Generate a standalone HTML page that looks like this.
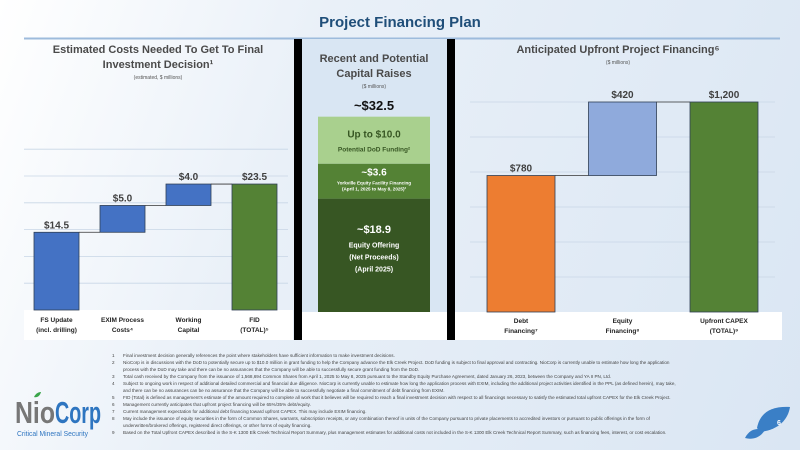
<!DOCTYPE html>
<html><head><meta charset="utf-8"><style>
*{margin:0;padding:0;box-sizing:border-box}
body{width:800px;height:450px;overflow:hidden;font-family:"Liberation Sans",sans-serif;background:linear-gradient(110deg,#ffffff 0%,#e9f0f8 35%,#dae6f3 100%);position:relative}
svg{position:absolute;left:0;top:0}
.fn{position:absolute;left:112px;top:352px;font-size:4.6px;line-height:7px;color:#444;width:670px}
.fn div{position:relative;padding-left:11px;white-space:nowrap;overflow:hidden}
.fn span{position:absolute;left:0}
</style></head><body>
<svg width="800" height="450">
<text x="400" y="27" text-anchor="middle" font-size="15" font-weight="bold" fill="#1f4e79">Project Financing Plan</text>
<line x1="24" y1="38.5" x2="780" y2="38.5" stroke="#9dbbdc" stroke-width="2"/>
<rect x="24" y="310" width="269" height="30" fill="#fff"/>
<rect x="455" y="312" width="327" height="28" fill="#fff"/>
<rect x="302" y="39" width="145" height="273" fill="#d9e6f3"/>
<rect x="302" y="312" width="145" height="28" fill="#fff"/>
<rect x="294" y="39" width="8" height="301" fill="#000"/>
<rect x="447" y="39" width="8" height="301" fill="#000"/>
<g id="left"></g>
<g id="mid"></g>
<g id="right"></g>
<path d="M757 428 C760 412 772 406 790 407 C788 420 778 430 760 432Z" fill="#3a7fc6"/>
<path d="M745 438 C750 428 758 428 765 430 C760 438 752 440 745 438Z" fill="#3a7fc6"/>
<text x="777" y="425" font-size="7" font-weight="bold" fill="#fff">6</text>
<text x="15" y="423" font-size="31" font-weight="bold" fill="#777" textLength="40" lengthAdjust="spacingAndGlyphs">Nio</text>
<text x="55" y="423" font-size="31" font-weight="bold" fill="#2e75c0" textLength="46" lengthAdjust="spacingAndGlyphs">Corp</text>
<path d="M34 397 C36 393 39 392 41 392 C40 396 37 398 34 397Z" fill="#3aa54a"/>
<text x="17" y="436" font-size="7.5" fill="#2e75c0" textLength="71" lengthAdjust="spacingAndGlyphs">Critical Mineral Security</text>
</svg>
<div class="fn">
<div><span>1</span>Final investment decision generally references the point where stakeholders have sufficient information to make investment decisions.</div>
<div><span>2</span>NioCorp is in discussions with the DoD to potentially secure up to $10.0 million in grant funding to help the Company advance the Elk Creek Project. DoD funding is subject to final approval and contracting. NioCorp is currently unable to estimate how long the application</div>
<div>process with the DoD may take and there can be no assurances that the Company will be able to successfully secure grant funding from the DoD.</div>
<div><span>3</span>Total cash received by the Company from the issuance of 1,568,694 Common Shares from April 1, 2025 to May 8, 2025 pursuant to the Standby Equity Purchase Agreement, dated January 26, 2023, between the Company and YA II PN, Ltd.</div>
<div><span>4</span>Subject to ongoing work in respect of additional detailed commercial and financial due diligence. NioCorp is currently unable to estimate how long the application process with EXIM, including the additional project activities identified in the PPL (as defined herein), may take,</div>
<div>and there can be no assurances can be no assurance that the Company will be able to successfully negotiate a final commitment of debt financing from EXIM.</div>
<div><span>5</span>FID (Total) is defined as management's estimate of the amount required to complete all work that it believes will be required to reach a final investment decision with respect to all financings necessary to satisfy the estimated total upfront CAPEX for the Elk Creek Project.</div>
<div><span>6</span>Management currently anticipates that upfront project financing will be 65%/35% debt/equity.</div>
<div><span>7</span>Current management expectation for additional debt financing toward upfront CAPEX. This may include EXIM financing.</div>
<div><span>8</span>May include the issuance of equity securities in the form of Common Shares, warrants, subscription receipts, or any combination thereof in units of the Company pursuant to private placements to accredited investors or pursuant to public offerings in the form of</div>
<div>underwritten/brokered offerings, registered direct offerings, or other forms of equity financing.</div>
<div><span>9</span>Based on the Total Upfront CAPEX described in the S-K 1300 Elk Creek Technical Report Summary, plus management estimates for additional costs not included in the S-K 1300 Elk Creek Technical Report Summary, such as financing fees, interest, or cost escalation.</div>
</div>
<script>
const leftCats=["FS Update|(incl. drilling)","EXIM Process|Costs⁴","Working|Capital","FID|(TOTAL)⁵"];
const leftVals=[14.5,5.0,4.0,23.5];
const leftLabels=["$14.5","$5.0","$4.0","$23.5"];
const leftTicks=[5,10,15,20,25,30];
const midVals=[18.9,3.6,10.0];
const midTotalLabel="~$32.5";
const rightCats=["Debt|Financing⁷","Equity|Financing⁸","Upfront CAPEX|(TOTAL)⁹"];
const rightVals=[780,420,1200];
const rightLabels=["$780","$420","$1,200"];
const rightTicks=[200,400,600,800,1000,1200];
const NS="http://www.w3.org/2000/svg";
function mk(p,t,a,txt){const e=document.createElementNS(NS,t);for(const k in a)e.setAttribute(k,a[k]);if(txt!==undefined)e.textContent=txt;p.appendChild(e);return e;}
function title(g,lines,cx,y0,sub){lines.forEach((l,i)=>{const t=mk(g,'text',{x:cx,y:y0+i*15,'text-anchor':'middle','font-size':11,'font-weight':'bold',fill:'#4a4a4a'},l);});
const s=mk(g,'text',{x:cx,y:y0+lines.length*15-4,'text-anchor':'middle','font-size':5,fill:'#555'},sub);}
function waterfall(g,cats,vals,labels,ticks,o){
 const y=v=>o.base-v*o.k;
 ticks.forEach(t=>{const l=mk(g,'line',{x1:o.gx1,x2:o.gx2,y1:y(t),y2:y(t),stroke:'#c8d6e6','stroke-width':0.8});});
 let cum=0;const n=vals.length;
 vals.forEach((v,i)=>{const total=i===n-1;const lo=total?0:cum;const hi=total?v:cum+v;
  const x=o.x0+i*o.step;
  const r=mk(g,'rect',{x:x,y:y(hi),width:o.bw,height:y(lo)-y(hi),fill:o.colors[i],stroke:'#2f3f55','stroke-width':0.8});
  
  const t=mk(g,'text',{x:x+o.bw/2,y:y(hi)-4,'text-anchor':'middle','font-size':o.fs,'font-weight':'bold',fill:'#404040'},labels[i]);
  
  if(i<n-1){const nh=cum+v;const c=mk(g,'line',{x1:x+o.bw,x2:x+o.step,y1:y(nh),y2:y(nh),stroke:'#333','stroke-width':0.8});}
  cats[i].split('|').forEach((s,j)=>{const c=mk(g,'text',{x:x+o.bw/2,y:o.ly+j*10,'text-anchor':'middle','font-size':6.5,'font-weight':'bold',fill:'#222'},s);});
  if(!total)cum+=v;});
}
const L=document.getElementById('left');
title(L,["Estimated Costs Needed To Get To Final","Investment Decision¹"],158,53,"(estimated, $ millions)");
waterfall(L,leftCats,leftVals,leftLabels,leftTicks,{base:310,k:5.36,x0:34,step:66,bw:45,gx1:24,gx2:288,ly:322,fs:10,colors:['#4472c4','#4472c4','#4472c4','#548235']});
const R=document.getElementById('right');
title(R,["Anticipated Upfront Project Financing⁶"],618,53,"($ millions)");
waterfall(R,rightCats,rightVals,rightLabels,rightTicks,{base:312,k:0.175,x0:487,step:101.5,bw:68,gx1:470,gx2:775,ly:323,fs:10,colors:['#ed7d31','#8faadc','#548235']});
const M=document.getElementById('mid');
title(M,["Recent and Potential","Capital Raises"],374,62,"($ millions)");
const mt=mk(M,'text',{x:374,y:110,'text-anchor':'middle','font-size':13,'font-weight':'bold',fill:'#111'},midTotalLabel);
const mColors=['#375623','#548235','#a9d08e'];
const mScale=[6,9.7,4.7];
let yb=312;
const mTexts=[[["~$18.9",11,'#fff'],["Equity Offering",7,'#fff'],["(Net Proceeds)",7,'#fff'],["(April 2025)",7,'#fff']],[["~$3.6",10,'#fff'],["Yorkville Equity Facility Financing",4.6,'#fff'],["(April 1, 2025 to May 8, 2025)³",4.6,'#fff']],[["Up to $10.0",10,'#375623'],["Potential DoD Funding²",6.5,'#375623']]];
const mOff=[[-26,-10,2,14],[-9,2,8],[-6,9]];
midVals.forEach((v,i)=>{const h=v*mScale[i];const r=mk(M,'rect',{x:318,y:yb-h,width:112,height:h,fill:mColors[i]});
 const cy=yb-h/2;mTexts[i].forEach((tx,j)=>{const t=mk(M,'text',{x:374,y:cy+mOff[i][j]+tx[1]/3,'text-anchor':'middle','font-size':tx[1],'font-weight':'bold',fill:tx[2]},tx[0]);});
 yb-=h;});
</script>
</body></html>
